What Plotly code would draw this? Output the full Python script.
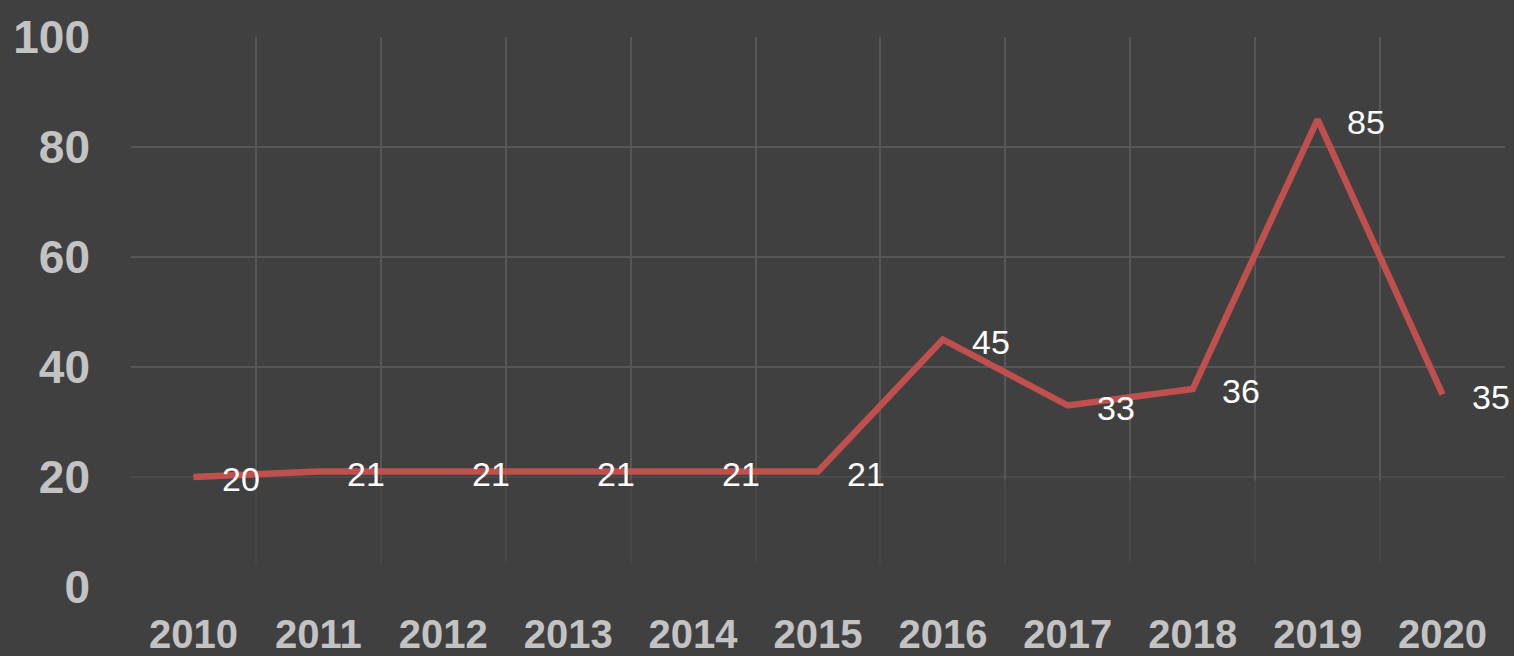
import plotly.graph_objects as go

years = ["2010", "2011", "2012", "2013", "2014", "2015", "2016", "2017", "2018", "2019", "2020"]
values = [20, 21, 21, 21, 21, 21, 45, 33, 36, 85, 35]
y_ticks = [0, 20, 40, 60, 80, 100]
y_grid_bright = [40, 60, 80, 100]

BG = "#404040"
GRID = "#575757"
GRID_FAINT = "#4a4a4a"
RED = "#c0504d"
TICK = "#c3c3c3"
FONT = "Liberation Sans, Arial, sans-serif"

fig = go.Figure()
fig.add_trace(go.Scatter(
    x=years, y=values, mode="lines",
    line=dict(color=RED, width=6.5),
    hoverinfo="skip", showlegend=False,
))

for i, v in enumerate(values):
    fig.add_annotation(
        x=i, y=v, xref="x", yref="y", text=str(v), showarrow=False,
        xanchor="left", yanchor="middle", xshift=27, yshift=-2,
        font=dict(family=FONT, size=34, color="#ffffff"),
    )

# faint gridline at 20 and faded grid near the bottom of the plot
fig.add_shape(type="line", xref="paper", yref="y", x0=0, x1=1, y0=20, y1=20,
              line=dict(color=GRID_FAINT, width=2), layer="below")
fig.add_shape(type="rect", xref="paper", yref="y", x0=0, x1=1, y0=-1, y1=4.4,
              fillcolor=BG, line_width=0, layer="above", opacity=1)
fig.add_shape(type="rect", xref="paper", yref="y", x0=0, x1=1, y0=4.4, y1=19.3,
              fillcolor=BG, line_width=0, layer="above", opacity=0.7)

fig.update_layout(
    width=1514, height=656,
    margin=dict(l=131, r=9, t=37, b=69, autoexpand=False),
    paper_bgcolor=BG, plot_bgcolor=BG,
    font=dict(family=FONT),
    xaxis=dict(
        type="category", range=[-0.5, 10.5], tickson="boundaries",
        showgrid=True, gridcolor=GRID, gridwidth=2, automargin=False,
        ticks="", showline=False, zeroline=False,
        tickfont=dict(family=FONT, size=40, color=TICK, weight="bold"),
        ticklabelstandoff=20,
    ),
    yaxis=dict(
        range=[0, 100], tickvals=y_ticks, automargin=False,
        showgrid=False,
        minor=dict(tickvals=y_grid_bright, showgrid=True, gridcolor=GRID, gridwidth=2, ticks=""),
        ticks="", showline=False, zeroline=False,
        tickfont=dict(family=FONT, size=46, color=TICK, weight="bold"),
        ticklabelstandoff=40,
    ),
)

fig.write_html("out.html", config={"displayModeBar": False},
               post_script="document.body.style.margin='0';")
